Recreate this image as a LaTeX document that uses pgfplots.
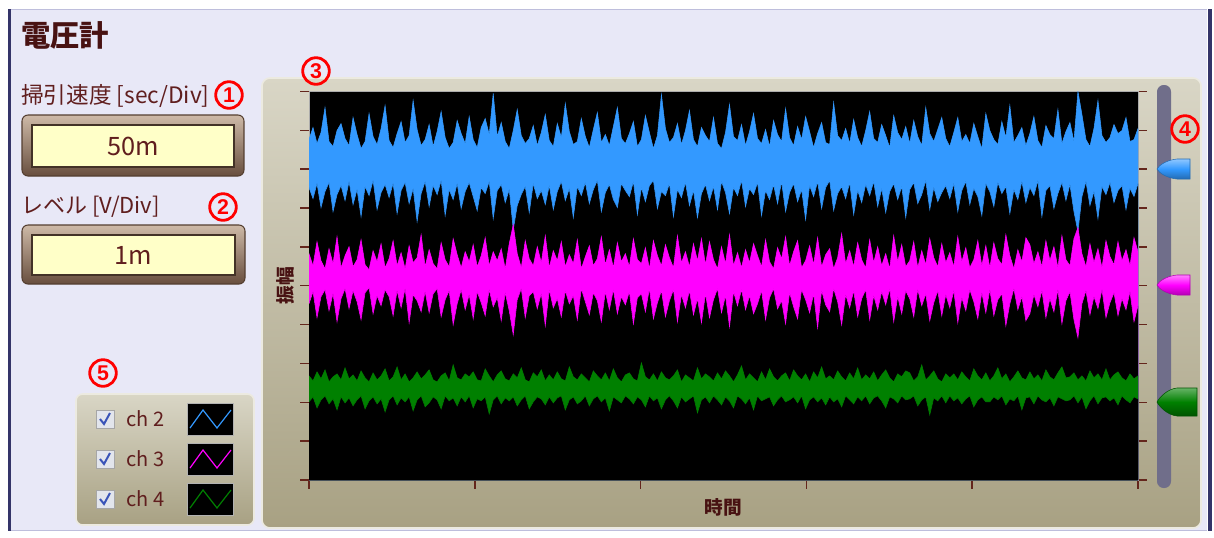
\documentclass[border=0pt]{standalone}
\usepackage{fontspec}
\setmainfont{Noto Sans CJK JP}
\newfontfamily\numfont{Liberation Sans}
\usepackage{pgfplots}
\pgfplotsset{compat=1.18}
\usepackage{pgfplotstable}

\definecolor{lav}{RGB}{232,232,247}
\definecolor{lavedge}{RGB}{190,190,220}
\definecolor{navy}{RGB}{52,52,105}
\definecolor{titc}{RGB}{72,18,18}
\definecolor{txt}{RGB}{96,30,30}
\definecolor{pantop}{RGB}{217,214,198}
\definecolor{panbot}{RGB}{168,161,131}
\definecolor{panedge}{RGB}{236,234,224}
\definecolor{sigB}{RGB}{51,153,255}
\definecolor{sigM}{RGB}{255,0,255}
\definecolor{sigG}{RGB}{0,128,0}
\definecolor{tickc}{RGB}{100,38,28}
\definecolor{track}{RGB}{112,110,138}
\definecolor{btnyel}{RGB}{255,255,200}
\definecolor{btntop}{RGB}{206,186,168}
\definecolor{btnbot}{RGB}{104,78,62}
\definecolor{btnedge}{RGB}{84,62,48}
\definecolor{chkbg}{RGB}{226,229,236}
\definecolor{chkmk}{RGB}{58,84,184}

% ---------------- data (pixel-height units, plot height = 388) ----------------
\pgfplotstableread[row sep=\\]{y\\
340\\ 352\\ 336\\ 347\\ 372\\ 338\\ 333\\ 349\\ 356\\ 341\\
334\\ 362\\ 345\\ 331\\ 338\\ 366\\ 343\\ 335\\ 351\\ 374\\
339\\ 332\\ 346\\ 358\\ 337\\ 344\\ 379\\ 350\\ 334\\ 340\\
355\\ 333\\ 348\\ 368\\ 342\\ 331\\ 337\\ 359\\ 346\\ 336\\
363\\ 340\\ 332\\ 352\\ 361\\ 345\\ 386\\ 343\\ 357\\ 338\\
331\\ 349\\ 370\\ 344\\ 336\\ 341\\ 354\\ 334\\ 347\\ 365\\
339\\ 333\\ 356\\ 342\\ 376\\ 348\\ 335\\ 338\\ 361\\ 343\\
332\\ 350\\ 367\\ 337\\ 345\\ 334\\ 353\\ 372\\ 341\\ 336\\
346\\ 358\\ 333\\ 340\\ 364\\ 347\\ 331\\ 344\\ 385\\ 351\\
337\\ 342\\ 356\\ 335\\ 349\\ 369\\ 340\\ 333\\ 352\\ 344\\
338\\ 362\\ 336\\ 331\\ 347\\ 375\\ 343\\ 339\\ 355\\ 334\\
348\\ 366\\ 341\\ 336\\ 350\\ 333\\ 359\\ 345\\ 338\\ 371\\
342\\ 334\\ 353\\ 340\\ 363\\ 348\\ 332\\ 346\\ 357\\ 337\\
335\\ 377\\ 344\\ 339\\ 351\\ 336\\ 360\\ 342\\ 333\\ 349\\
368\\ 341\\ 337\\ 355\\ 344\\ 332\\ 364\\ 347\\ 340\\ 353\\
336\\ 359\\ 343\\ 334\\ 372\\ 346\\ 338\\ 350\\ 362\\ 341\\
333\\ 347\\ 362\\ 338\\ 345\\ 336\\ 356\\ 343\\ 331\\ 366\\
349\\ 340\\ 335\\ 358\\ 342\\ 374\\ 337\\ 344\\ 352\\ 334\\
346\\ 363\\ 339\\ 332\\ 354\\ 345\\ 341\\ 370\\ 336\\ 348\\
357\\ 338\\ 388\\ 365\\ 340\\ 333\\ 351\\ 379\\ 344\\ 337\\
342\\ 355\\ 346\\ 349\\ 362\\ 338\\ 340\\ 351\\
}\blueHi
\pgfplotstableread[row sep=\\]{y\\
292\\ 281\\ 296\\ 272\\ 288\\ 297\\ 268\\ 285\\ 294\\ 279\\
298\\ 275\\ 290\\ 263\\ 293\\ 284\\ 299\\ 270\\ 287\\ 295\\
282\\ 296\\ 266\\ 289\\ 297\\ 276\\ 291\\ 258\\ 286\\ 298\\
273\\ 294\\ 285\\ 299\\ 264\\ 290\\ 280\\ 296\\ 271\\ 288\\
297\\ 283\\ 269\\ 292\\ 286\\ 298\\ 261\\ 289\\ 295\\ 277\\
290\\ 250\\ 274\\ 285\\ 293\\ 267\\ 296\\ 281\\ 289\\ 275\\
294\\ 270\\ 288\\ 298\\ 279\\ 291\\ 262\\ 293\\ 284\\ 297\\
276\\ 290\\ 299\\ 268\\ 287\\ 295\\ 280\\ 272\\ 296\\ 289\\
283\\ 298\\ 265\\ 292\\ 278\\ 294\\ 299\\ 271\\ 288\\ 284\\
296\\ 263\\ 290\\ 282\\ 297\\ 274\\ 289\\ 262\\ 286\\ 295\\
279\\ 293\\ 270\\ 298\\ 287\\ 266\\ 292\\ 284\\ 299\\ 273\\
291\\ 285\\ 297\\ 264\\ 289\\ 280\\ 295\\ 276\\ 298\\ 268\\
287\\ 296\\ 278\\ 290\\ 260\\ 294\\ 283\\ 298\\ 271\\ 292\\
299\\ 269\\ 286\\ 293\\ 281\\ 297\\ 265\\ 289\\ 277\\ 295\\
284\\ 298\\ 273\\ 291\\ 267\\ 288\\ 296\\ 280\\ 293\\ 262\\
290\\ 297\\ 276\\ 285\\ 299\\ 270\\ 292\\ 278\\ 287\\ 294\\
281\\ 296\\ 268\\ 289\\ 298\\ 275\\ 291\\ 283\\ 264\\ 296\\
288\\ 273\\ 297\\ 286\\ 293\\ 266\\ 290\\ 280\\ 298\\ 277\\
292\\ 284\\ 299\\ 263\\ 289\\ 294\\ 271\\ 286\\ 297\\ 279\\
295\\ 268\\ 248\\ 283\\ 298\\ 274\\ 288\\ 261\\ 293\\ 285\\
297\\ 277\\ 289\\ 294\\ 270\\ 291\\ 283\\ 296\\
}\blueLo
\pgfplotstableread[row sep=\\]{y\\
226\\ 214\\ 238\\ 219\\ 211\\ 231\\ 216\\ 243\\ 212\\ 224\\
233\\ 213\\ 220\\ 240\\ 215\\ 210\\ 229\\ 218\\ 236\\ 212\\
221\\ 239\\ 214\\ 227\\ 211\\ 234\\ 217\\ 222\\ 245\\ 213\\
230\\ 216\\ 211\\ 237\\ 220\\ 213\\ 241\\ 225\\ 212\\ 228\\
218\\ 235\\ 213\\ 224\\ 242\\ 214\\ 228\\ 219\\ 231\\ 211\\
236\\ 255\\ 226\\ 212\\ 239\\ 221\\ 214\\ 233\\ 217\\ 244\\
212\\ 229\\ 219\\ 238\\ 213\\ 225\\ 216\\ 240\\ 211\\ 223\\
234\\ 214\\ 221\\ 243\\ 215\\ 230\\ 212\\ 237\\ 218\\ 226\\
213\\ 241\\ 220\\ 216\\ 232\\ 211\\ 239\\ 224\\ 214\\ 235\\
222\\ 212\\ 244\\ 217\\ 228\\ 213\\ 236\\ 219\\ 241\\ 215\\
238\\ 220\\ 211\\ 233\\ 216\\ 245\\ 214\\ 227\\ 212\\ 230\\
217\\ 236\\ 224\\ 213\\ 240\\ 218\\ 211\\ 232\\ 221\\ 243\\
214\\ 228\\ 239\\ 212\\ 219\\ 234\\ 215\\ 242\\ 213\\ 225\\
231\\ 211\\ 222\\ 246\\ 216\\ 229\\ 213\\ 237\\ 220\\ 212\\
240\\ 217\\ 233\\ 214\\ 226\\ 211\\ 244\\ 218\\ 235\\ 213\\
219\\ 238\\ 212\\ 229\\ 215\\ 241\\ 222\\ 213\\ 236\\ 217\\
227\\ 213\\ 243\\ 218\\ 232\\ 212\\ 220\\ 239\\ 214\\ 234\\
212\\ 237\\ 221\\ 215\\ 245\\ 224\\ 211\\ 230\\ 218\\ 242\\
235\\ 216\\ 228\\ 213\\ 239\\ 219\\ 233\\ 212\\ 244\\ 220\\
214\\ 241\\ 252\\ 226\\ 213\\ 236\\ 217\\ 231\\ 212\\ 239\\
223\\ 215\\ 238\\ 219\\ 230\\ 214\\ 242\\ 228\\
}\magHi
\pgfplotstableread[row sep=\\]{y\\
176\\ 188\\ 162\\ 183\\ 190\\ 169\\ 186\\ 158\\ 181\\ 191\\
171\\ 189\\ 178\\ 160\\ 187\\ 192\\ 166\\ 184\\ 174\\ 190\\
183\\ 164\\ 189\\ 172\\ 191\\ 157\\ 185\\ 179\\ 168\\ 188\\
167\\ 186\\ 191\\ 163\\ 180\\ 189\\ 155\\ 176\\ 190\\ 170\\
185\\ 161\\ 188\\ 177\\ 164\\ 190\\ 173\\ 182\\ 159\\ 187\\
169\\ 145\\ 180\\ 191\\ 162\\ 184\\ 188\\ 171\\ 186\\ 154\\
190\\ 172\\ 181\\ 163\\ 189\\ 176\\ 184\\ 160\\ 191\\ 178\\
165\\ 187\\ 179\\ 158\\ 188\\ 170\\ 190\\ 166\\ 183\\ 175\\
188\\ 156\\ 182\\ 186\\ 168\\ 191\\ 161\\ 177\\ 189\\ 163\\
179\\ 190\\ 158\\ 185\\ 172\\ 189\\ 165\\ 181\\ 157\\ 186\\
162\\ 180\\ 191\\ 167\\ 184\\ 153\\ 188\\ 174\\ 190\\ 170\\
184\\ 166\\ 176\\ 189\\ 160\\ 182\\ 191\\ 171\\ 179\\ 156\\
187\\ 173\\ 161\\ 190\\ 180\\ 167\\ 186\\ 152\\ 189\\ 175\\
168\\ 191\\ 178\\ 155\\ 185\\ 172\\ 189\\ 163\\ 181\\ 190\\
160\\ 184\\ 170\\ 188\\ 175\\ 191\\ 158\\ 183\\ 166\\ 189\\
181\\ 163\\ 190\\ 174\\ 186\\ 159\\ 177\\ 189\\ 164\\ 185\\
172\\ 189\\ 157\\ 182\\ 169\\ 190\\ 178\\ 161\\ 187\\ 167\\
190\\ 164\\ 180\\ 186\\ 154\\ 176\\ 191\\ 170\\ 183\\ 159\\
166\\ 185\\ 173\\ 189\\ 162\\ 181\\ 168\\ 190\\ 156\\ 179\\
188\\ 160\\ 142\\ 176\\ 189\\ 165\\ 183\\ 171\\ 190\\ 162\\
177\\ 187\\ 164\\ 181\\ 170\\ 188\\ 158\\ 174\\
}\magLo
\pgfplotstableread[row sep=\\]{y\\
104\\ 99\\ 108\\ 101\\ 110\\ 98\\ 103\\ 106\\ 100\\ 112\\
101\\ 105\\ 99\\ 109\\ 102\\ 98\\ 107\\ 100\\ 104\\ 111\\
99\\ 103\\ 113\\ 100\\ 106\\ 98\\ 102\\ 108\\ 101\\ 105\\
110\\ 100\\ 98\\ 104\\ 107\\ 99\\ 115\\ 102\\ 100\\ 106\\
103\\ 108\\ 100\\ 99\\ 111\\ 104\\ 98\\ 105\\ 109\\ 101\\
99\\ 106\\ 102\\ 112\\ 100\\ 98\\ 107\\ 103\\ 110\\ 99\\
105\\ 100\\ 108\\ 101\\ 99\\ 113\\ 103\\ 100\\ 106\\ 102\\
98\\ 109\\ 104\\ 100\\ 107\\ 99\\ 111\\ 102\\ 98\\ 105\\
107\\ 101\\ 99\\ 117\\ 103\\ 100\\ 106\\ 99\\ 108\\ 102\\
100\\ 104\\ 110\\ 98\\ 105\\ 102\\ 99\\ 112\\ 101\\ 106\\
103\\ 99\\ 107\\ 101\\ 109\\ 104\\ 98\\ 105\\ 114\\ 100\\
106\\ 102\\ 98\\ 108\\ 100\\ 111\\ 103\\ 99\\ 104\\ 107\\
99\\ 110\\ 104\\ 100\\ 106\\ 98\\ 108\\ 102\\ 113\\ 101\\
104\\ 100\\ 109\\ 103\\ 99\\ 107\\ 101\\ 112\\ 100\\ 105\\
101\\ 108\\ 99\\ 105\\ 110\\ 102\\ 98\\ 106\\ 103\\ 109\\
107\\ 99\\ 103\\ 115\\ 100\\ 104\\ 109\\ 101\\ 98\\ 106\\
102\\ 106\\ 100\\ 108\\ 103\\ 99\\ 111\\ 104\\ 100\\ 107\\
99\\ 104\\ 112\\ 101\\ 106\\ 98\\ 103\\ 109\\ 102\\ 100\\
108\\ 101\\ 105\\ 99\\ 110\\ 103\\ 100\\ 107\\ 113\\ 102\\
103\\ 107\\ 100\\ 104\\ 99\\ 109\\ 102\\ 106\\ 100\\ 111\\
100\\ 105\\ 108\\ 102\\ 99\\ 106\\ 101\\ 104\\
}\grnHi
\pgfplotstableread[row sep=\\]{y\\
78\\ 83\\ 72\\ 80\\ 84\\ 76\\ 81\\ 70\\ 83\\ 77\\
82\\ 74\\ 80\\ 84\\ 71\\ 79\\ 83\\ 76\\ 81\\ 68\\
80\\ 84\\ 75\\ 82\\ 78\\ 83\\ 69\\ 80\\ 84\\ 73\\
77\\ 83\\ 80\\ 71\\ 84\\ 79\\ 82\\ 74\\ 83\\ 78\\
84\\ 72\\ 81\\ 79\\ 83\\ 66\\ 80\\ 84\\ 76\\ 82\\
79\\ 83\\ 74\\ 80\\ 84\\ 71\\ 78\\ 83\\ 81\\ 75\\
83\\ 77\\ 82\\ 84\\ 70\\ 80\\ 83\\ 76\\ 79\\ 84\\
74\\ 81\\ 84\\ 78\\ 82\\ 69\\ 83\\ 80\\ 77\\ 84\\
81\\ 76\\ 83\\ 80\\ 73\\ 84\\ 79\\ 82\\ 71\\ 80\\
84\\ 79\\ 72\\ 83\\ 78\\ 81\\ 84\\ 67\\ 80\\ 83\\
77\\ 84\\ 80\\ 75\\ 83\\ 79\\ 72\\ 84\\ 81\\ 76\\
82\\ 70\\ 84\\ 79\\ 81\\ 83\\ 74\\ 80\\ 84\\ 78\\
80\\ 83\\ 77\\ 84\\ 71\\ 80\\ 83\\ 78\\ 82\\ 75\\
83\\ 78\\ 81\\ 73\\ 84\\ 80\\ 76\\ 83\\ 79\\ 84\\
76\\ 82\\ 84\\ 79\\ 72\\ 83\\ 81\\ 77\\ 84\\ 80\\
81\\ 84\\ 74\\ 80\\ 83\\ 65\\ 82\\ 79\\ 84\\ 77\\
84\\ 79\\ 82\\ 76\\ 81\\ 84\\ 73\\ 80\\ 83\\ 78\\
78\\ 83\\ 80\\ 84\\ 75\\ 81\\ 79\\ 84\\ 70\\ 82\\
83\\ 76\\ 84\\ 80\\ 78\\ 82\\ 74\\ 83\\ 81\\ 79\\
80\\ 84\\ 77\\ 83\\ 71\\ 79\\ 84\\ 76\\ 82\\ 83\\
79\\ 82\\ 75\\ 84\\ 80\\ 77\\ 83\\ 81\\
}\grnLo

\newcommand\cnum[3]{%
  \draw[red, line width=2.1pt] (#1,#2) circle[radius=13.3];
  \node[text=red, inner sep=0, font=\numfont\bfseries\fontsize{16}{16}\selectfont] at (#1,#2+0.5) {#3};}
\newcommand\slider[6]{% cy, right, halfh, top, mid, bottom
  \path[top color=#4, bottom color=#6, middle color=#5, draw=#6, line width=0.4pt]
    (#2,#1-#3) -- (1177,#1-#3) .. controls (1167,#1-#3+1) and (1159,#1-4) .. (1157,#1)
    .. controls (1159,#1+4) and (1167,#1+#3-1) .. (1177,#1+#3) -- (#2,#1+#3) -- cycle;}
\newcommand\button[5]{% x1,y1,x2,y2,text
  \draw[btnedge, line width=0.8pt, rounded corners=4.5pt, top color=btntop, bottom color=btnbot] (#1,#2) rectangle (#3,#4);
  \draw[btnedge!80!black, line width=0.9pt, fill=btnyel] (#1+10,#2+10) rectangle (#3-10,#4-9);
  \node[text=txt, font=\fontsize{19}{19}\selectfont, inner sep=0] at ({(#1+#3)/2},{(#2+#4)/2+0.5}) {#5};}
\newcommand\chrow[3]{% y, color, label
  \draw[gray!70, fill=chkbg] (96,#1-9) rectangle (114,#1+9);
  \draw[chkmk, line width=1.5pt] (100,#1) -- (104,#1+5) -- (110,#1-6);
  \node[anchor=west, text=txt, inner sep=0, font=\fontsize{15}{15}\selectfont] at (126,#1) {#3};
  \fill[black] (187,#1-16) rectangle (233,#1+16);
  \draw[gray!60, line width=0.6pt] (187,#1-16) rectangle (233,#1+16);
  \draw[#2, line width=0.9pt] (190,#1+9) -- (203,#1-9) -- (217,#1+9) -- (231,#1-9);}

\begin{document}
\begin{tikzpicture}
\begin{scope}[x=0.75pt,y=-0.75pt]
  \fill[white] (0,0) rectangle (1214,537);
  \fill[lav] (9,9) rectangle (1207,531);
  \draw[lavedge, line width=0.75pt] (9,9.5) -- (1207,9.5);
  \draw[lavedge, line width=0.75pt] (9,530.5) -- (1207,530.5);
  \draw[navy, line width=2.2pt] (9.5,9) -- (9.5,531);
  \draw[navy, line width=3pt] (1210,9) -- (1210,531);
  % title and controls
  \node[anchor=west, text=titc, inner sep=0, font=\bfseries\fontsize{22}{22}\selectfont] at (21,35) {電圧計};
  \node[anchor=west, text=txt, inner sep=0, font=\fontsize{17}{17}\selectfont] at (21,96) {掃引速度 [sec/Div]};
  \button{22}{115}{244}{176}{50m}
  \node[anchor=west, text=txt, inner sep=0, font=\fontsize{16.5}{16.5}\selectfont] at (21,207) {レベル [V/Div]};
  \button{22}{225}{245}{284}{1m}
  % legend panel
  \draw[panedge, line width=1.2pt, rounded corners=5pt, top color=pantop, bottom color=panbot] (76,394) rectangle (254,525);
  \chrow{419}{sigB}{ch 2}
  \chrow{459}{sigM}{ch 3}
  \chrow{499}{sigG}{ch 4}
  % chart panel
  \draw[panedge, line width=1.2pt, rounded corners=6pt, top color=pantop, bottom color=panbot] (262,78) rectangle (1201,528);
  \fill[track, rounded corners=5pt] (1157,85) rectangle (1171,488);
  \slider{169}{1190}{10}{sigB!55!white}{sigB}{sigB!70!black}
  \slider{285}{1190}{10}{sigM!50!white}{sigM}{sigM!70!black}
  \slider{402}{1197}{14}{sigG!60!white}{sigG}{sigG!65!black}
\end{scope}

\begin{axis}[
  at={(231.75pt,-360pt)}, anchor=south west,
  scale only axis, width=621.75pt, height=291pt,
  xmin=0, xmax=207, ymin=0, ymax=388,
  xtick={0,41.4,82.8,124.2,165.6,207},
  ytick={0,38.8,77.6,116.4,155.2,194,232.8,271.6,310.4,349.2,388},
  xticklabels={}, yticklabels={},
  tick align=outside, xtick pos=left, ytick pos=both,
  major tick length=6.5pt,
  every tick/.style={tickc, line width=1.1pt},
  axis background/.style={fill=black},
  axis line style={draw=gray!65, line width=0.7pt},
  xlabel={時間}, ylabel={振幅},
  xlabel style={at={(axis description cs:0.5,-0.07)}, anchor=center, text=titc, font=\bfseries\fontsize{14}{14}\selectfont},
  ylabel style={at={(axis description cs:-0.029,0.5)}, anchor=center, text=titc, font=\bfseries\fontsize{14}{14}\selectfont},
]
  % each band: fill up to the upper envelope, then blank below the lower envelope
  \addplot[sigB, fill=sigB, line width=0.4pt] table[x expr=\coordindex, y=y] {\blueHi} \closedcycle;
  \addplot[black, fill=black, draw=none] table[x expr=\coordindex, y=y] {\blueLo} \closedcycle;
  \addplot[sigB, line width=0.4pt] table[x expr=\coordindex, y=y] {\blueLo};
  \addplot[sigM, fill=sigM, line width=0.4pt] table[x expr=\coordindex, y=y] {\magHi} \closedcycle;
  \addplot[black, fill=black, draw=none] table[x expr=\coordindex, y=y] {\magLo} \closedcycle;
  \addplot[sigM, line width=0.4pt] table[x expr=\coordindex, y=y] {\magLo};
  \addplot[sigG, fill=sigG, line width=0.4pt] table[x expr=\coordindex, y=y] {\grnHi} \closedcycle;
  \addplot[black, fill=black, draw=none] table[x expr=\coordindex, y=y] {\grnLo} \closedcycle;
  \addplot[sigG, line width=0.4pt] table[x expr=\coordindex, y=y] {\grnLo};
\end{axis}

\begin{scope}[x=0.75pt,y=-0.75pt]
  \cnum{229}{95}{1}
  \cnum{223}{207}{2}
  \cnum{316}{71}{3}
  \cnum{1185}{129}{4}
  \cnum{103}{373}{5}
  \pgfresetboundingbox
  \path[use as bounding box] (0,0) rectangle (1214,537);
\end{scope}
\end{tikzpicture}
\end{document}
